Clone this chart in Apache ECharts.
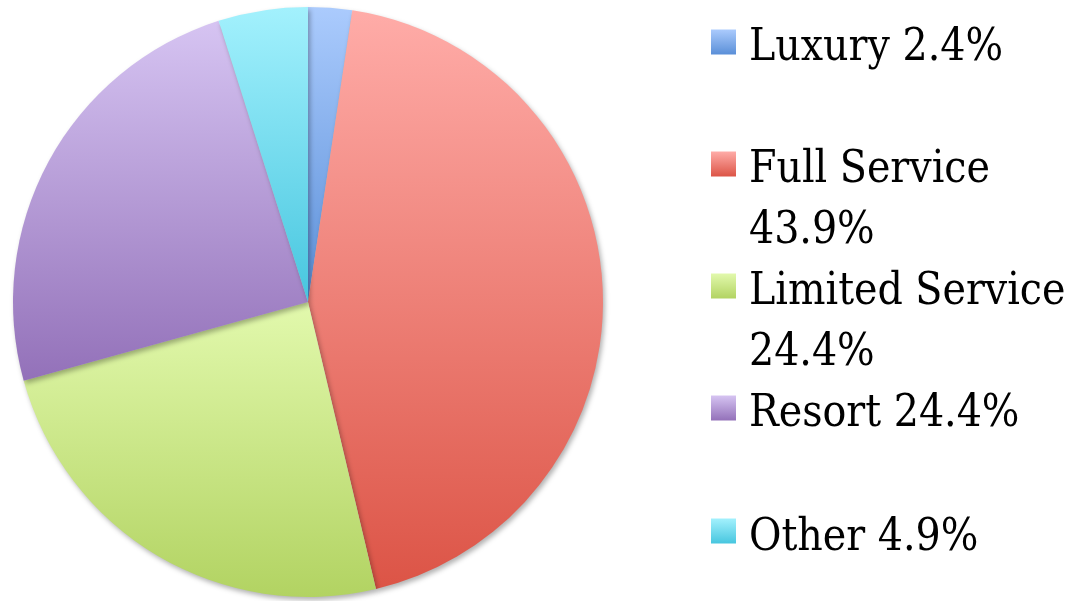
<!DOCTYPE html>
<html>
<head>
<meta charset="utf-8">
<script src="https://cdn.jsdelivr.net/npm/echarts@6/dist/echarts.min.js"></script>
<style>
  html, body { margin: 0; padding: 0; background: #fff; }
  #main { width: 1076px; height: 601px; }
</style>
</head>
<body>
<div id="main"></div>
<script>
const categories = ["Luxury", "Full Service", "Limited Service", "Resort", "Other"];
const shares = [2.4, 43.9, 24.4, 24.4, 4.9];
// legend text, one array entry per printed line
const legendLines = [
  ["Luxury 2.4%"],
  ["Full Service", "43.9%"],
  ["Limited Service", "24.4%"],
  ["Resort 24.4%"],
  ["Other 4.9%"],
];

// gradient stops per slice, top -> bottom
const topColors = ["#abcbfd", "#ffaca8", "#e2f9ad", "#d6c4f2", "#a3f1fd"];
const bottomColors = ["#5a8fd8", "#dc5446", "#b2d362", "#9371b9", "#47c6df"];

// legend rows: icon centre y, and centre y of the first text line
const iconCenters = [42, 164, 286, 408, 531];
const textCenters = [46, 168, 290, 412, 536];
const LINE = 61;

function fill(i) {
  return new echarts.graphic.LinearGradient(0, 0, 0, 1, [
    { offset: 0, color: topColors[i] },
    { offset: 1, color: bottomColors[i] },
  ]);
}

const chart = echarts.init(document.getElementById("main"));

const legends = [];
categories.forEach((name, i) => {
  // swatch only
  legends.push({
    left: 711,
    top: iconCenters[i] - 12.5,
    padding: 0,
    data: [name],
    icon: "rect",
    itemWidth: 25,
    itemHeight: 25,
    selectedMode: false,
    formatter: () => "",
  });
  // text only, set beside the swatch
  legends.push({
    left: 711,
    top: textCenters[i] - 27.5,
    padding: 0,
    data: [name],
    icon: "none",
    itemWidth: 25,
    itemHeight: 25,
    selectedMode: false,
    formatter: () => legendLines[i].join("\n"),
    textStyle: {
      fontFamily: "DejaVu Serif Condensed",
      fontSize: 44,
      lineHeight: LINE,
      color: "#000",
      padding: [0, 0, 0, 8],
    },
  });
});

chart.setOption({
  animation: false,
  legend: legends,
  series: [
    {
      type: "pie",
      center: [308, 302],
      radius: 295,
      startAngle: 90,
      clockwise: true,
      label: { show: false },
      labelLine: { show: false },
      emphasis: { disabled: true },
      itemStyle: {
        borderWidth: 0,
        shadowBlur: 5,
        shadowOffsetX: 2,
        shadowOffsetY: 3,
        shadowColor: "rgba(0,0,0,0.3)",
      },
      data: categories.map((name, i) => ({
        name: name,
        value: shares[i],
        itemStyle: { color: fill(i) },
      })),
    },
  ],
});
</script>
</body>
</html>
